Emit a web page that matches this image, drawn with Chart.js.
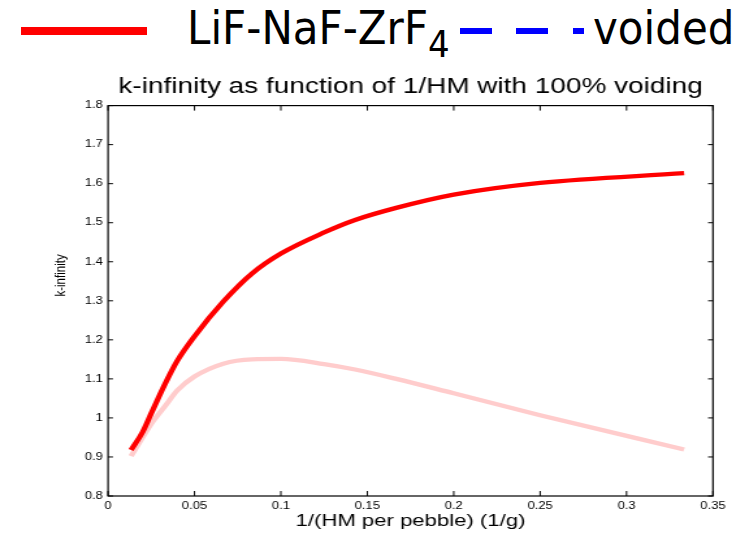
<!DOCTYPE html>
<html>
<head>
<meta charset="utf-8">
<script src="https://cdn.jsdelivr.net/npm/chart.js@4.4.1/dist/chart.umd.min.js"></script>
<style>
  html, body { margin: 0; padding: 0; background: #fff; overflow: hidden; }
  #wrap { position: absolute; left: 0; top: 0; width: 576px; height: 533px; transform: scaleX(1.3003); transform-origin: 0 0; }
  .lg { position: absolute; }
  .lgText { position: absolute; top: 8.5px; font-family: "DejaVu Sans"; font-size: 42px; line-height: 42px; color: #000; white-space: nowrap; transform: scaleY(1.12); transform-origin: 0 35.5px; }
  .lgText sub { font-size: 34px; vertical-align: baseline; position: relative; top: 12px; }
</style>
</head>
<body>
<div class="lg" style="left:21px;top:27px;width:126px;height:8px;background:#ff0000"></div>
<div class="lgText" style="left:187px">LiF-NaF-ZrF<sub>4</sub></div>
<div class="lg" style="left:460px;top:28px;width:32px;height:6px;background:#0000ff"></div>
<div class="lg" style="left:516px;top:28px;width:32px;height:6px;background:#0000ff"></div>
<div class="lg" style="left:573px;top:28px;width:11px;height:6px;background:#0000ff"></div>
<div class="lgText" style="left:593px">voided</div>

<div id="wrap"><canvas id="kinfChart" width="576" height="533"></canvas></div>

<script>
// 1/(HM per pebble) in 1/g
const invHM = [0.0133, 0.02, 0.025, 0.0333, 0.04, 0.05, 0.0667, 0.0833, 0.1, 0.125, 0.1429, 0.1667, 0.2, 0.25, 0.3333];
// k-infinity, LiF-NaF-ZrF4 (red)
const kinfLiF = [0.918, 0.964, 1.012, 1.090, 1.146, 1.209, 1.298, 1.370, 1.421, 1.475, 1.507, 1.538, 1.572, 1.602, 1.627];
// k-infinity, light pink curve
const kinfLight = [0.902, 0.950, 0.985, 1.032, 1.070, 1.106, 1.139, 1.150, 1.151, 1.138, 1.124, 1.100, 1.063, 1.007, 0.919];

const xTicks = [0, 0.05, 0.1, 0.15, 0.2, 0.25, 0.3, 0.35];
const yTicks = [0.8, 0.9, 1, 1.1, 1.2, 1.3, 1.4, 1.5, 1.6, 1.7, 1.8];
const yTitulo = "k-infinity";

const toPoints = vals => vals.map((v, i) => ({ x: invHM[i], y: v }));
const fmt = v => String(Number(Number(v).toFixed(2)));

// frame, inward ticks on all four sides, and the y title (sits above centre in the original)
const marcoTicks = {
  id: "marcoTicks",
  afterDraw(chart) {
    const { ctx, chartArea: a, scales: { x, y } } = chart;
    ctx.save();
    ctx.strokeStyle = "#000";
    ctx.lineWidth = 1;
    ctx.beginPath();
    xTicks.forEach(v => {
      const px = x.getPixelForValue(v);
      ctx.moveTo(px, a.bottom); ctx.lineTo(px, a.bottom - 5);
      ctx.moveTo(px, a.top); ctx.lineTo(px, a.top + 5);
    });
    yTicks.forEach(v => {
      const py = y.getPixelForValue(v);
      ctx.moveTo(a.left, py); ctx.lineTo(a.left + 3.8, py);
      ctx.moveTo(a.right, py); ctx.lineTo(a.right - 3.8, py);
    });
    ctx.stroke();
    ctx.lineWidth = 1.2;
    ctx.strokeRect(a.left, a.top, a.right - a.left, a.bottom - a.top);

    ctx.translate(47, y.getPixelForValue(1.365));
    ctx.rotate(-Math.PI / 2);
    ctx.fillStyle = "#000";
    ctx.font = "11.5px 'Liberation Sans'";
    ctx.textAlign = "center";
    ctx.textBaseline = "middle";
    ctx.fillText(yTitulo, 0, 0);
    ctx.restore();
  }
};

new Chart(document.getElementById("kinfChart"), {
  type: "line",
  data: {
    datasets: [
      {
        label: "LiF-NaF-ZrF4",
        data: toPoints(kinfLiF),
        borderColor: "#ff0000",
        borderWidth: 4.3,
        pointRadius: 0,
        cubicInterpolationMode: "monotone"
      },
      {
        label: "light",
        data: toPoints(kinfLight),
        borderColor: "#ffcccc",
        borderWidth: 4.3,
        pointRadius: 0,
        cubicInterpolationMode: "monotone"
      }
    ]
  },
  options: {
    responsive: false,
    animation: false,
    devicePixelRatio: 1,
    layout: { padding: { top: 74, right: 27.7, bottom: 0, left: 0 } },
    plugins: {
      legend: { display: false },
      tooltip: { enabled: false },
      title: {
        display: true,
        text: "k-infinity as function of 1/HM with 100% voiding",
        fullSize: false,
        color: "#000",
        font: { family: "Liberation Sans", size: 21.5, weight: "normal" },
        padding: { top: 0, bottom: 5.8 }
      }
    },
    scales: {
      x: {
        type: "linear",
        min: 0,
        max: 0.35,
        afterFit: s => { s.height = 37; },
        afterBuildTicks: s => { s.ticks = xTicks.map(v => ({ value: v })); },
        grid: { display: false, drawTicks: false },
        border: { display: false },
        ticks: {
          padding: 4,
          color: "#000",
          font: { family: "Liberation Sans", size: 10 },
          maxRotation: 0,
          autoSkip: false,
          callback: fmt
        },
        title: {
          display: true,
          text: "1/(HM per pebble) (1/g)",
          color: "#000",
          font: { family: "Liberation Sans", size: 17 },
          padding: { top: 0, bottom: 1 }
        }
      },
      y: {
        min: 0.8,
        max: 1.8,
        afterFit: s => { s.width = 83.1; },
        afterBuildTicks: s => { s.ticks = yTicks.map(v => ({ value: v })); },
        grid: { display: false, drawTicks: false },
        border: { display: false },
        ticks: {
          padding: 4,
          color: "#000",
          font: { family: "Liberation Sans", size: 10 },
          autoSkip: false,
          callback: fmt
        }
      }
    }
  },
  plugins: [marcoTicks]
});
</script>
</body>
</html>
